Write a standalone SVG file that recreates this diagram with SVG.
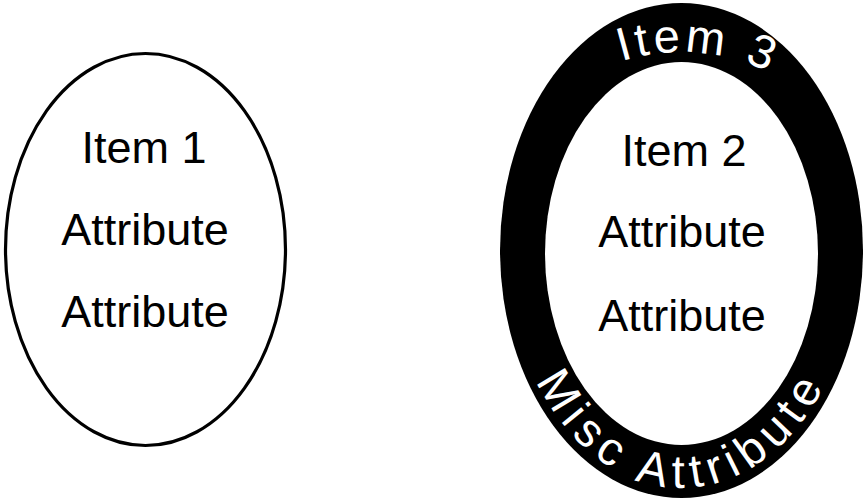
<svg xmlns="http://www.w3.org/2000/svg" xmlns:xlink="http://www.w3.org/1999/xlink" width="867" height="500" viewBox="0 0 867 500">
  <style>
    text { font-family: "Liberation Sans", Arial, Helvetica, sans-serif; }
    .lbl { font-size: 45px; fill: #000; text-anchor: middle; }
    .ring { font-size: 47px; fill: #fff; text-anchor: middle; }
  </style>
  <defs>
    <path id="topArc" d="M 481.5 252 A 200 200 0 0 1 881.5 252"/>
    <path id="botArc" d="M 507.5 250 A 174 238 0 0 0 855.5 250"/>
  </defs>
  <rect width="867" height="500" fill="#fff"/>
  <g id="item1">
    <ellipse cx="145.5" cy="249.5" rx="140" ry="196" fill="#fff" stroke="#000" stroke-width="3.2"/>
    <text class="lbl" x="144" y="163">Item 1</text>
    <text class="lbl" x="145" y="245">Attribute</text>
    <text class="lbl" x="145" y="327">Attribute</text>
  </g>
  <g id="item3">
    <ellipse cx="681.5" cy="250.5" rx="181.5" ry="247.5" fill="#000"/>
    <text class="ring" letter-spacing="4"><textPath xlink:href="#topArc" href="#topArc" startOffset="330">Item 3</textPath></text>
    <text class="ring" letter-spacing="7"><textPath xlink:href="#botArc" href="#botArc" startOffset="50%">Misc Attribute</textPath></text>
  </g>
  <g id="item2">
    <ellipse cx="681.5" cy="253.5" rx="136.5" ry="191.5" fill="#fff"/>
    <text class="lbl" x="684" y="166">Item 2</text>
    <text class="lbl" x="682" y="247">Attribute</text>
    <text class="lbl" x="682" y="331">Attribute</text>
  </g>
  <g id="connectors"/>
</svg>
